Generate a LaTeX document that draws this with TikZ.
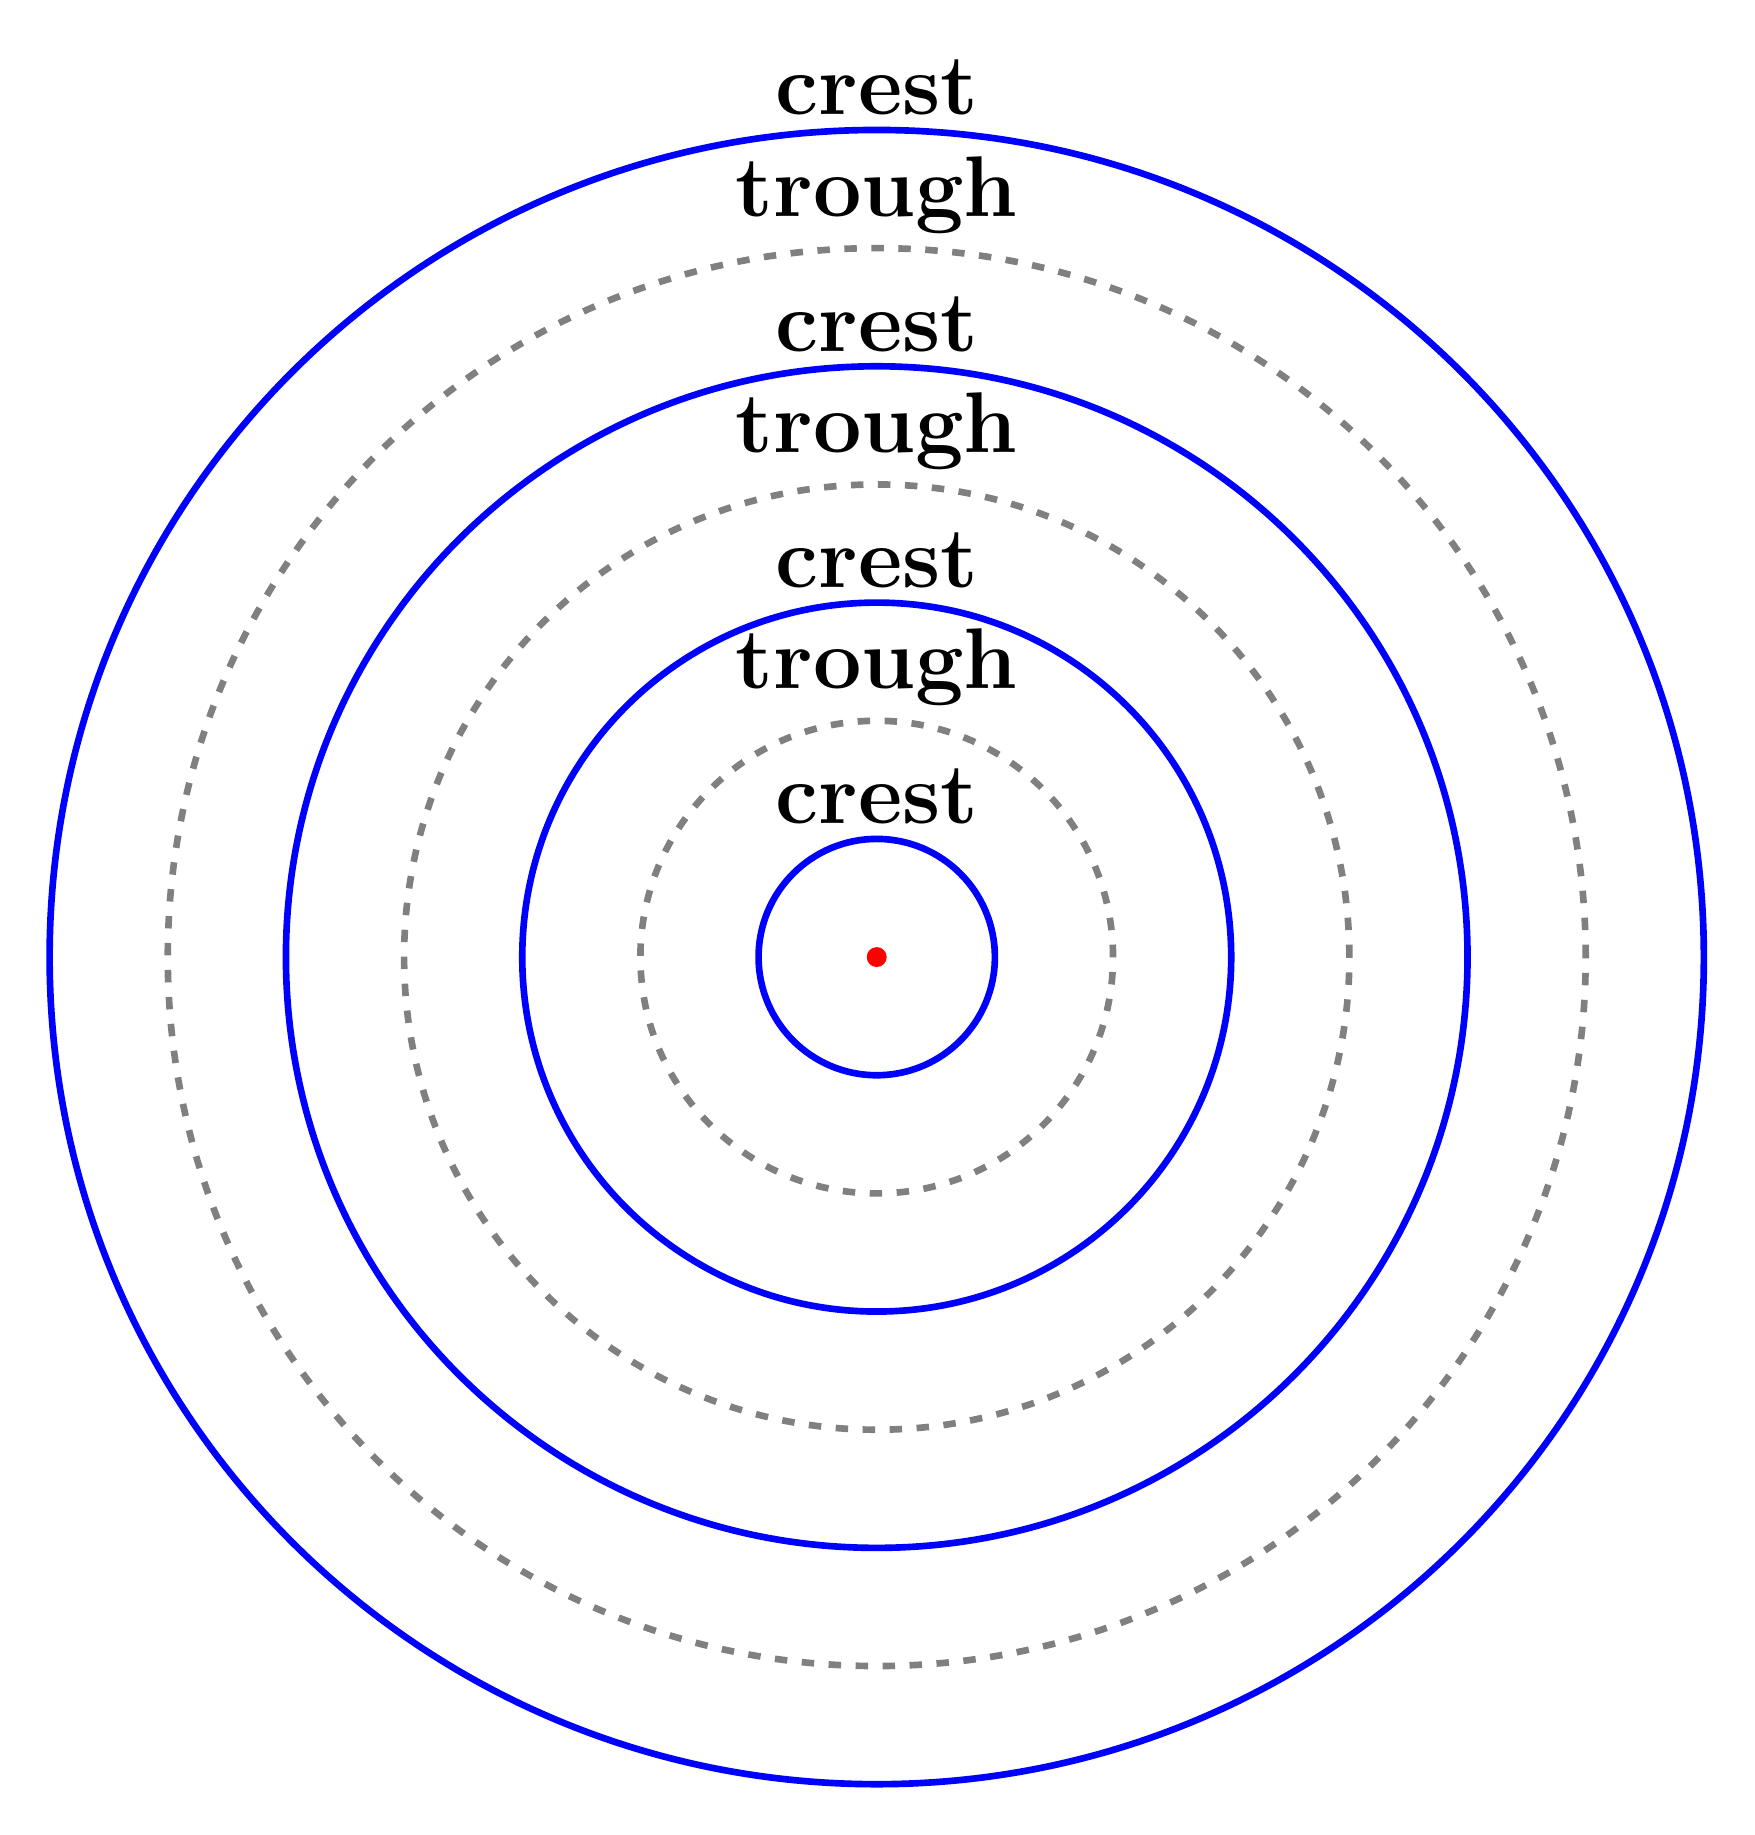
\documentclass[tikz,border=0pt]{standalone}
\begin{document}
\begin{tikzpicture}
\useasboundingbox (-7.42,-7.43) rectangle (7.43,8.10);
\tikzset{
  crestline/.style={draw=blue, line width=1.6pt},
  troughline/.style={draw=gray, line width=1.6pt, dash pattern=on 3pt off 3.5pt},
  lbl/.style={above}
}
\foreach \r/\k in {1/crest, 3/crest, 5/crest, 7/crest}{
  \draw[crestline] (0,0) circle (\r);
  \node[lbl] (l\r) at (0,\r) {\huge\textbf{\k}};
}
\foreach \r/\k in {2/trough, 4/trough, 6/trough}{
  \draw[troughline] (0,0) circle (\r);
  \node[lbl] (l\r) at (0,\r) {\huge\textbf{\k}};
}
\fill[red] (0,0) circle (2.4pt);
\end{tikzpicture}
\end{document}
